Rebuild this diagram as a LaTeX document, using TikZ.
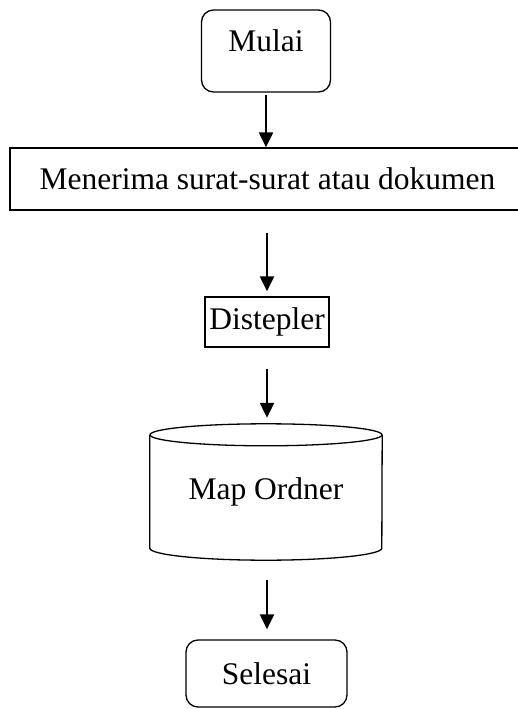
\documentclass[tikz,border=0pt]{standalone}
\usepackage{fontspec}
\setmainfont{Liberation Serif}
\usetikzlibrary{arrows.meta}
\begin{document}
\begin{tikzpicture}[
      x=1pt, y=-1pt,
      font=\fontsize{31.5}{36}\selectfont,
      kotak/.style={
        draw,
        line width=1.3pt,
        inner sep=0pt
      },
      awal/.style={
        kotak,
        rounded corners=12pt
      },
      panah/.style={
        line width=2.2pt,
        -{Triangle[length=15pt,width=14pt]}
      }
    ]
    \useasboundingbox (0,0) rectangle (517,709);
    \node[awal, minimum width=129pt, minimum height=82pt, text depth=21pt] (mul) at (266,51) {Mulai} ;
    \node[kotak, minimum width=515pt, minimum height=62pt] (terima) at (267.5,179) {Menerima surat-surat atau dokumen} ;
    \node[kotak, minimum width=124pt, minimum height=50pt] (stpl) at (267,322) {Distepler} ;
    \node[minimum width=232pt, minimum height=136pt, inner sep=0pt] (map) at (266,492) {Map Ordner} ;
    \node[awal, minimum width=161pt, minimum height=67pt] (sls) at (266.5,673.5) {Selesai} ;
    % tabung
    \draw[line width=1.3pt] ([yshift=-11pt]map.north) ellipse [x radius=116pt, y radius=11pt];
    \draw[line width=1.3pt] ([yshift=-11pt]map.north west) -- ([yshift=12pt]map.south west)
      arc [start angle=180, end angle=360, x radius=116pt, y radius=12pt]
      -- ([yshift=-11pt]map.north east);
    \draw[panah, shorten <=2pt] (mul.south) -- (mul.south |- terima.north);
    \draw[panah, shorten <=22pt, shorten >=5pt] (stpl.north |- terima.south) -- (stpl.north);
    \draw[panah, shorten <=21pt, shorten >=6pt] (stpl.south) -- (stpl.south |- map.north);
    \draw[panah, shorten <=20pt, shorten >=10pt] (stpl.south |- map.south) -- (stpl.south |- sls.north);
  \end{tikzpicture}
\end{document}
